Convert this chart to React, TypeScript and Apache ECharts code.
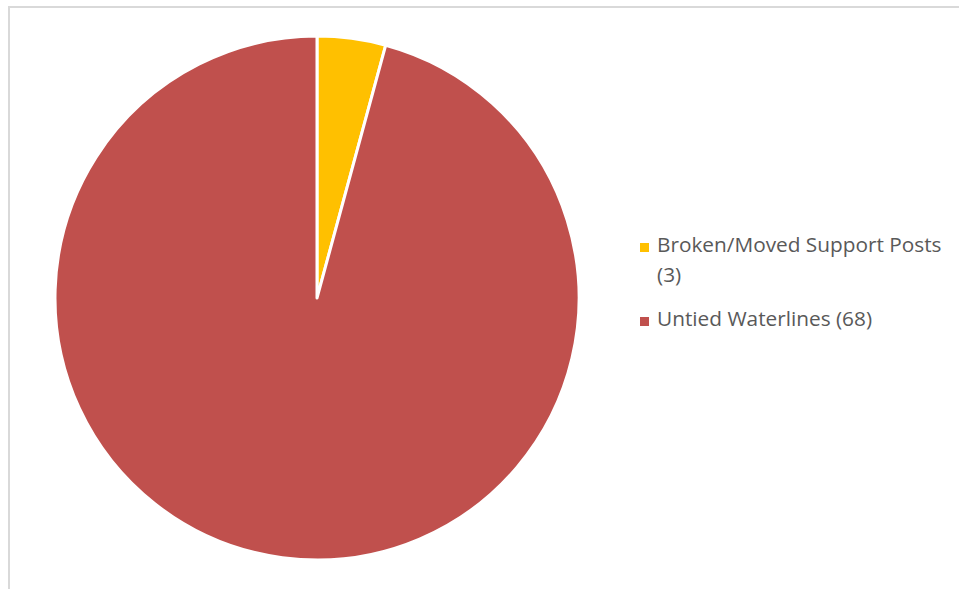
import React, { useEffect, useRef } from "react";
import * as echarts from "echarts";

const categories = ["Broken/Moved Support Posts", "Untied Waterlines"];
const values = [3, 68];
const colors = ["#FFC000", "#C0504D"];

export default function App() {
  const ref = useRef<HTMLDivElement>(null);
  useEffect(() => {
    if (!ref.current) return;
    const chart = echarts.init(ref.current, null, { renderer: "svg" });
    const data = categories.map((name, i) => ({
      name,
      value: values[i],
      itemStyle: { color: colors[i] },
    }));
    const textStyle = {
      fill: "#595959",
      fontFamily: "Open Sans",
      fontSize: 20.8,
      verticalAlign: "top",
      align: "left",
    };
    // legend lines: [text, topY]
    const legendLines: [string, number][] = [
      [categories[0], 233.5],
      [`(${values[0]})`, 263],
      [`${categories[1]} (${values[1]})`, 307],
    ];
    const squares: [number, number][] = [
      [0, 243],
      [1, 317],
    ];
    chart.setOption({
      animation: false,
      backgroundColor: "#ffffff",
      graphic: [
        {
          type: "polyline",
          shape: { points: [[9, 589], [9, 7], [959, 7]] },
          style: { stroke: "#d9d9d9", lineWidth: 2, fill: "none" },
          silent: true,
        },
        ...squares.map(([i, y]) => ({
          type: "rect",
          shape: { x: 640, y, width: 9, height: 9 },
          style: { fill: colors[i] },
          silent: true,
        })),
        ...legendLines.map(([t, y]) => ({
          type: "text",
          x: 657,
          y,
          style: { ...textStyle, text: t },
          silent: true,
        })),
      ],
      series: [
        {
          type: "pie",
          center: [317, 298],
          radius: 262,
          startAngle: 90,
          clockwise: true,
          label: { show: false },
          labelLine: { show: false },
          itemStyle: { borderColor: "#ffffff", borderWidth: 3 },
          data,
        },
      ],
    });
    return () => chart.dispose();
  }, []);
  return (
    <div
      ref={ref}
      style={{ position: "fixed", left: 0, top: 0, width: 959, height: 589 }}
    />
  );
}
